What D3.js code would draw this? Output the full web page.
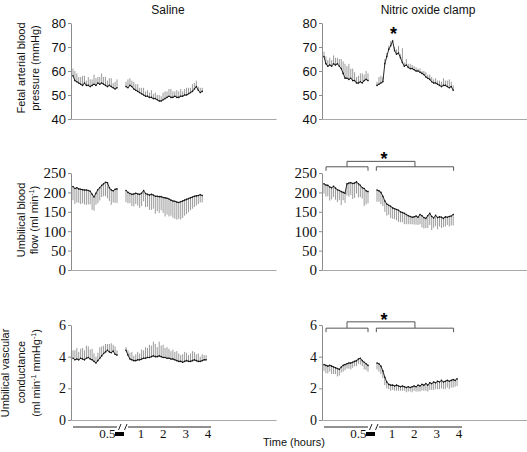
<!DOCTYPE html>
<html><head><meta charset="utf-8">
<script src="https://cdn.jsdelivr.net/npm/d3@7"></script>
<style>
body{margin:0;background:#fff}svg{display:block}
.serif{font-family:"Liberation Serif","Times New Roman",serif}
.serifw{font-family:"Liberation Serif","DejaVu Serif",serif}
.sans{font-family:"Liberation Sans",Arial,sans-serif}
</style>
</head><body>
<svg id="c" width="527" height="452"></svg>
<script>
// ---------- DATA ----------
const groups = ["Saline", "Nitric oxide clamp"];
const bpTicks = [40, 50, 60, 70, 80];
const flowTicks = [0, 50, 100, 150, 200, 250];
const condTicks = [0, 2, 4, 6];
const preTickValues = [0.5];
const postTickValues = [1, 2, 3, 4];
// sampling times (hours): 24 control samples, then post-infusion samples every ~5 min
const preTimes = d3.range(24).map(i => i * 0.65 / 23);
const postTimes = d3.range(42).map(i => 0.35 + i * 0.0875);

// Saline: fetal arterial blood pressure (mmHg), mean and SEM
const salineBPPre   = [58,56,55.5,55,54.5,54,55,54,54,53.5,54,54.5,54,55,54.5,55,54.5,54,53.5,54,53.5,53,52.5,53];
const salineBPPreSD = [3,4,3.5,2.5,3,4,3,2,3.5,3,2.5,4,3,2.5,3,4,3,3.5,2.5,3,3.5,2,3,3.5];
const salineBPPost  = [53.5,53,54,53.5,52.5,52,51.5,51,50.5,50,49.5,49.5,49,49,48.5,48.5,48,47.5,47.5,48,48.5,49,49.5,49,49,49.5,49,49,49.5,49.5,50,50,50.5,51,51.5,52.5,53.5,52,51,51.5];
const salineBPPostSD= [2,3.5,3,2.5,3,2.5,3,2,2.5,3,2,2.5,2,3,2,2.5,2,2.5,2,3,3,2.5,3,3.5,2.5,2,3,2.5,3,2,2.5,3,2.5,2,3,2.5,2.5,1.5,2,1.5];
// Nitric oxide clamp: blood pressure
const noBPPre   = [66,63,62,62.5,62,63,62.5,63,62,61,59,57,57,56.5,57,56,56,55,55,55.5,55,56,56.5,56];
const noBPPreSD = [2,3,2.5,3,2.5,3.5,3,2.5,3,4,5,6,5,6.5,4,5,3.5,2.5,3,3.5,4,2.5,3.5,3];
const noBPPost  = [54,54.5,55,55.5,63,66,69,70.5,72.5,68.5,67,67.5,65.5,63.5,62,62.5,61.5,61,61,60.5,60,60,59.5,59,58.5,57.5,57,56.5,55.5,55,55,54.5,54,53.5,54,54,53.5,53,53.5,52];
const noBPPostSD= [1.5,3,3,2,2,1.5,1.5,2,0.5,1.5,2,3,1.5,6,1.5,2.5,1.5,2,1.5,1.5,1.5,1,1.5,1,1.5,2,1.5,2,2,1.5,2,1.5,2,2,3,2,2.5,3.5,2,2];

// Umbilical blood flow (ml/min)
const salineFlowPre   = [215,210,212,209,208,207,206,206,205,203,195,188,198,207,212,218,222,226,225,212,206,204,208,209];
const salineFlowPreSD = [35,40,38,36,38,35,37,38,36,34,40,35,30,35,33,30,32,36,40,34,38,30,35,36];
const salineFlowPost  = [205,200,197,195,196,198,196,195,198,205,197,195,193,195,193,190,190,189,189,187,186,185,183,180,178,177,175,174,176,178,180,182,184,186,188,190,191,192,194,192];
const salineFlowPostSD= [30,28,25,30,32,28,30,35,33,28,35,32,38,40,35,45,38,42,35,40,48,42,45,40,43,45,45,42,46,44,40,38,35,32,30,28,25,22,20,18];
const noFlowPre   = [222,219,218,214,212,216,211,207,205,202,200,198,222,224,225,223,224,227,222,218,212,210,204,202];
const noFlowPreSD = [25,30,28,35,30,28,30,32,25,35,20,25,30,35,32,40,38,30,35,30,28,45,35,30];
const noFlowPost  = [206,204,200,190,178,170,167,164,160,158,156,154,150,148,146,143,140,138,136,137,139,136,143,140,135,133,140,146,138,134,141,135,137,136,133,137,136,138,139,143];
const noFlowPostSD= [30,28,30,25,28,30,25,30,28,27,28,30,27,25,28,25,22,20,18,20,22,20,25,30,28,25,32,30,35,25,28,30,25,28,22,25,20,26,24,28];

// Umbilical vascular conductance (ml/min/mmHg)
const salineCondPre   = [3.9,3.8,3.85,3.8,3.9,3.85,3.8,3.9,3.95,3.85,3.8,3.7,3.6,3.75,3.9,4.05,4.2,4.3,4.4,4.3,4.25,4.35,4.15,4.1];
const salineCondPreSD = [0.5,0.6,0.7,0.5,0.6,0.7,0.6,0.8,0.7,0.6,0.7,0.5,0.4,0.5,0.7,0.6,0.5,0.5,0.4,0.5,0.6,0.4,0.5,0.3];
const salineCondPost  = [4.4,4.1,3.85,3.8,3.75,3.75,3.8,3.8,3.85,3.9,3.9,3.95,3.95,4.0,4.05,4.0,4.0,4.05,4.0,3.95,3.95,3.9,3.9,3.85,3.85,3.8,3.75,3.7,3.7,3.65,3.7,3.75,3.7,3.7,3.75,3.8,3.75,3.7,3.7,3.75,3.8,3.8];
const salineCondPostSD= [0.2,0.3,0.4,0.5,0.3,0.4,0.5,0.4,0.6,0.5,0.7,0.6,0.8,0.7,0.9,0.8,0.6,0.9,0.7,0.8,0.6,0.7,0.6,0.5,0.6,0.5,0.6,0.5,0.4,0.5,0.6,0.5,0.4,0.5,0.6,0.5,0.4,0.5,0.3,0.4,0.3,0.3];
const noCondPre   = [3.5,3.45,3.4,3.45,3.4,3.35,3.3,3.25,3.2,3.35,3.45,3.5,3.55,3.6,3.6,3.65,3.7,3.75,3.85,3.9,3.75,3.65,3.55,3.45];
const noCondPreSD = [0.4,0.5,0.45,0.4,0.5,0.45,0.4,0.5,0.4,0.35,0.4,0.35,0.3,0.35,0.4,0.35,0.3,0.35,0.3,0.4,0.35,0.45,0.4,0.4];
const noCondPost  = [3.6,3.55,3.4,3.1,2.7,2.4,2.25,2.2,2.2,2.15,2.2,2.15,2.1,2.15,2.1,2.05,2.1,2.05,2.1,2.15,2.1,2.2,2.15,2.25,2.2,2.3,2.2,2.35,2.3,2.4,2.35,2.45,2.4,2.5,2.4,2.45,2.5,2.45,2.5,2.55,2.5,2.6];
const noCondPostSD= [0.4,0.5,0.5,0.45,0.5,0.4,0.3,0.35,0.3,0.3,0.35,0.3,0.25,0.3,0.25,0.3,0.3,0.25,0.35,0.3,0.3,0.4,0.35,0.4,0.35,0.45,0.4,0.45,0.4,0.5,0.4,0.5,0.45,0.5,0.45,0.5,0.45,0.5,0.45,0.5,0.4,0.45];

// ---------- DRAWING ----------
const svg = d3.select("#c");
const colX = [71, 322];
const xPre = d3.scaleLinear().domain([0, 0.65]).range([0, 44]);
const xPost = d3.scaleLinear().domain([0.35, 4]).range([53, 134.5]);

const rows = [
  {domain:[40,80], range:[119,23], ticks:bpTicks, cls:"sans", fs:13},
  {domain:[0,250], range:[270,173], ticks:flowTicks, cls:"serifw", fs:15},
  {domain:[0,6],   range:[420,325], ticks:condTicks, cls:"serif", fs:14}
];
const panels = [
  [ {pre:salineBPPre, preSD:salineBPPreSD, post:salineBPPost, postSD:salineBPPostSD, dir:1},
    {pre:noBPPre, preSD:noBPPreSD, post:noBPPost, postSD:noBPPostSD, dir:1} ],
  [ {pre:salineFlowPre, preSD:salineFlowPreSD, post:salineFlowPost, postSD:salineFlowPostSD, dir:-1},
    {pre:noFlowPre, preSD:noFlowPreSD, post:noFlowPost, postSD:noFlowPostSD, dir:-1} ],
  [ {pre:salineCondPre, preSD:salineCondPreSD, post:salineCondPost, postSD:salineCondPostSD, dir:1},
    {pre:noCondPre, preSD:noCondPreSD, post:noCondPost, postSD:noCondPostSD, dir:-1} ]
];

// titles
[97, 106].forEach((dx, c) => {
  svg.append("text").attr("class", "sans").attr("x", colX[c] + dx).attr("y", 14).attr("text-anchor","middle")
    .style("font-size", "12px").attr("fill", "#111").text(groups[c]);
});

const yScales = [];
rows.forEach((row, r) => {
  const y = d3.scaleLinear().domain(row.domain).range(row.range);
  yScales.push(y);
  [0,1].forEach(c => {
    const g = svg.append("g").attr("transform", `translate(${colX[c]},0)`);
    // x baseline
    g.append("g").attr("transform", `translate(0,${row.range[0]})`)
      .call(d3.axisBottom(d3.scaleLinear().range([0, 205])).tickValues([]).tickSizeOuter(0))
      .select(".domain").attr("stroke", "#a8a8a8");
    // y axis
    const ya = g.append("g").call(d3.axisLeft(y).tickValues(row.ticks).tickFormat(d3.format("d"))
      .tickSize(3).tickSizeOuter(0).tickPadding(2));
    ya.attr("font-family", null).attr("font-size", null);
    ya.select(".domain").attr("stroke", "#8c8c8c");
    ya.selectAll(".tick line").attr("stroke", "#8c8c8c");
    ya.selectAll(".tick text").attr("class", row.cls).style("font-size", row.fs + "px").attr("fill", "#111");
    // data
    const s = panels[r][c];
    const dg = g.append("g").attr("transform", "translate(2,0)");
    const segs = [
      {x: xPre, t: preTimes, v: s.pre, e: s.preSD},
      {x: xPost, t: postTimes, v: s.post, e: s.postSD}
    ];
    segs.forEach(seg => {
      const pts = seg.v.map((v, i) => ({t: seg.t[i], v, e: seg.e[i]}));
      dg.append("g").selectAll("line").data(pts).join("line")
        .attr("x1", d => seg.x(d.t)).attr("x2", d => seg.x(d.t))
        .attr("y1", d => y(d.v)).attr("y2", d => y(d.v + s.dir * d.e))
        .attr("stroke", "#909090").attr("stroke-width", 0.9);
      dg.append("path").datum(pts)
        .attr("d", d3.line().x(d => seg.x(d.t)).y(d => y(d.v)))
        .attr("fill", "none").attr("stroke", "#111").attr("stroke-width", 0.9);
      dg.append("g").selectAll("circle").data(pts).join("circle")
        .attr("cx", d => seg.x(d.t)).attr("cy", d => y(d.v)).attr("r", 0.8).attr("fill", "#111");
    });
  });
});

// significance brackets (NO clamp column)
function bracket(yLow, yHigh) {
  const g = svg.append("g").attr("transform", `translate(${colX[1] + 2},0)`)
    .attr("stroke", "#555").attr("fill", "none").attr("stroke-width", 1);
  const a0 = xPre(0.03), a1 = xPre(0.65);
  const b0 = xPost(0.32), b1 = xPost(3.78);
  const ma = (a0 + a1) / 2, mb = (b0 + b1) / 2;
  g.append("path").attr("d", `M${a0},${yLow+4}V${yLow}H${a1}V${yLow+4}`);
  g.append("path").attr("d", `M${b0},${yLow+4}V${yLow}H${b1}V${yLow+4}`);
  g.append("path").attr("d", `M${ma},${yLow}V${yHigh}H${mb}V${yLow}`);
  svg.append("text").attr("class", "sans").attr("x", colX[1] + 2 + (ma + mb) / 2 + 3).attr("y", yHigh + 4)
    .attr("text-anchor", "middle").style("font-size", "18px")
    .style("font-weight", "bold").text("*");
}
bracket(yScales[1](266), yScales[1](280));
bracket(yScales[2](5.8), yScales[2](6.2));

// asterisk above NO BP peak
{
  const i = noBPPost.indexOf(d3.max(noBPPost));
  svg.append("text").attr("class", "sans").attr("x", colX[1] + 2 + xPost(postTimes[i]) + 1)
    .attr("y", yScales[0](noBPPost[i]) - 1)
    .attr("text-anchor","middle").style("font-size", "18px")
    .style("font-weight", "bold").text("*");
}

// y-axis titles (rotated)
function rotText(x, y, parts) {
  const t = svg.append("text").attr("class", "sans").attr("transform", `translate(${x},${y}) rotate(-90)`)
    .attr("text-anchor", "middle").style("font-size", "11px").attr("fill","#111");
  let shift = 0;
  parts.forEach(p => {
    const sup = Array.isArray(p);
    const txt = sup ? p[0] : p;
    const dy = sup ? -4 - shift : -shift;
    shift = sup ? -4 : 0;
    const ts = t.append("tspan").attr("dy", dy).text(txt);
    if (sup) ts.style("font-size", "7px");
  });
}
rotText(25, 68, ["Fetal arterial blood"]);
rotText(39, 68, ["pressure (mmHg)"]);
rotText(25, 220, ["Umbilical blood"]);
rotText(38, 220, ["flow (ml min", ["-1"], ")"]);
rotText(9, 373, ["Umbilical vascular"]);
rotText(25, 372, ["conductance"]);
rotText(40, 373, ["(ml min", ["-1"], " mmHg", ["-1"], ")"]);

// time axes
[0,1].forEach(c => {
  const g = svg.append("g").attr("transform", `translate(${colX[c] + 2},427)`);
  g.append("line").attr("x1", xPre(0)).attr("x2", xPre(0.65)).attr("stroke", "#222");
  g.append("line").attr("x1", xPost(0.44)).attr("x2", xPost(4.16)).attr("stroke", "#222");
  [xPre(0.65) + 1.5, xPost(0.44) - 3.5].forEach(bx => {
    g.append("line").attr("x1", bx).attr("y1", 3).attr("x2", bx + 2.5).attr("y2", -3).attr("stroke", "#222");
  });
  g.append("rect").attr("x", xPre(0.65) - 2).attr("y", 5).attr("width", 9).attr("height", 4).attr("fill", "#000");
  const pa = g.append("g").call(d3.axisBottom(xPre).tickValues(preTickValues).tickFormat(d3.format(".1f")).tickSize(0).tickPadding(2));
  const pb = g.append("g").call(d3.axisBottom(xPost).tickValues(postTickValues).tickFormat(d3.format("d")).tickSize(0).tickPadding(2));
  [pa, pb].forEach(a => {
    a.attr("font-family", null).attr("font-size", null);
    a.select(".domain").remove();
    a.selectAll("text").attr("class", "serif").style("font-size", "13px").attr("fill", "#111");
  });
});
svg.append("text").attr("class", "sans").attr("x", 263).attr("y", 446).style("font-size", "11px")
  .attr("fill","#111").text("Time (hours)");
</script>
</body></html>
